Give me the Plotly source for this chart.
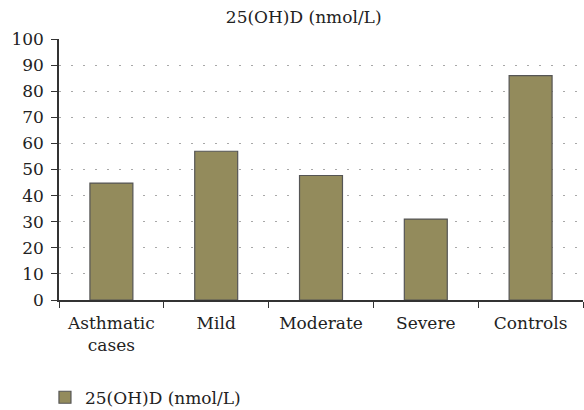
import plotly.graph_objects as go

categories = ["Asthmatic<br>cases", "Mild", "Moderate", "Severe", "Controls"]
values = [44.8, 57.0, 47.7, 31.0, 86.0]
series_name = "25(OH)D (nmol/L)"
y_ticks = list(range(0, 101, 10))

FONT = "DejaVu Serif, Liberation Serif, serif"
FS = 17

fig = go.Figure()
fig.add_trace(go.Bar(
    x=categories, y=values, name=series_name,
    marker=dict(color="#938b5c", line=dict(color="#555555", width=1.2)),
    width=0.41,
    showlegend=True,
))

fig.update_layout(
    width=584, height=410,
    margin=dict(l=59, r=1, t=39, b=110, autoexpand=False),
    paper_bgcolor="white", plot_bgcolor="white",
    font=dict(family=FONT, size=FS, color="#222222"),
    title=dict(text=series_name, x=0.52, xanchor="center", y=0.958, yanchor="middle",
               font=dict(family=FONT, size=FS, color="#222222")),
    showlegend=True,
    legend=dict(orientation="h", xref="container", yref="container",
                x=0.077, xanchor="left", y=0.03, yanchor="middle",
                font=dict(family=FONT, size=FS, color="#222222")),
    bargap=0.6,
)
fig.update_yaxes(
    range=[0, 100], tickvals=y_ticks, showline=True, linecolor="#333333", linewidth=1.5,
    ticks="outside", ticklen=6, tickcolor="#333333", automargin=False,
    ticklabelstandoff=4,
    showgrid=True, gridcolor="#a8a8a8", griddash="2px,10px", gridwidth=1.2,
    zeroline=False, fixedrange=True,
)
fig.update_xaxes(
    showline=True, linecolor="#333333", linewidth=1.5, automargin=False,
    ticks="outside", ticklen=6, tickcolor="#333333", tickson="boundaries",
    ticklabelstandoff=7,
    showgrid=False,
)

fig.write_html("out.html", config={"displayModeBar": False},
               post_script="document.body.style.margin='0';document.body.style.padding='0';")
